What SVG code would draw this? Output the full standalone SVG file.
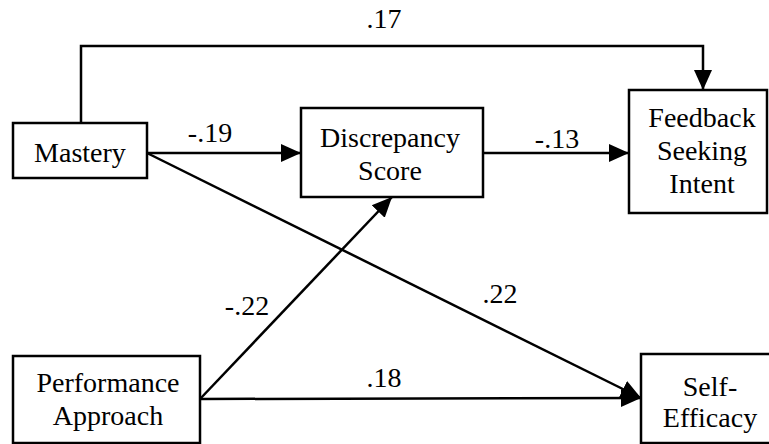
<svg xmlns="http://www.w3.org/2000/svg" width="769" height="444" viewBox="0 0 769 444">
  <style>
    .box { fill: #ffffff; stroke: #000000; stroke-width: 2.5; }
    .edge { fill: none; stroke: #000000; stroke-width: 2.5; }
    .arrow { marker-end: url(#head); }
    text { font-family: 'Liberation Serif', 'DejaVu Serif', serif; font-size: 28px; fill: #000000; text-anchor: middle; }
  </style>
  <defs>
    <marker id="head" markerUnits="userSpaceOnUse" markerWidth="20" markerHeight="20" viewBox="0 0 20 20" refX="20" refY="10" orient="auto">
      <path d="M0,1 L20,10 L0,19 Z" fill="#000000"/>
    </marker>
  </defs>
  <rect width="769" height="444" fill="#ffffff"/>

  <!-- paths between constructs -->
  <g id="connectors">
    <polyline class="edge arrow" points="81,123 81,46 703,46 703,90"/>
    <line class="edge arrow" x1="147" y1="153" x2="301" y2="153"/>
    <line class="edge arrow" x1="483" y1="153" x2="629" y2="153"/>
    <line class="edge arrow" x1="147" y1="153" x2="641" y2="398"/>
    <line class="edge arrow" x1="200" y1="399" x2="392" y2="197"/>
    <line class="edge arrow" x1="200" y1="399" x2="641" y2="398"/>
  </g>

  <!-- path coefficients -->
  <g id="coefficients">
    <text x="384" y="28">.17</text>
    <text x="210" y="142">-.19</text>
    <text x="557" y="148">-.13</text>
    <text x="247" y="315">-.22</text>
    <text x="500" y="303">.22</text>
    <text x="384" y="387">.18</text>
  </g>

  <g id="mastery">
    <rect class="box" x="13" y="123" width="134" height="55"/>
    <text x="80" y="162">Mastery</text>
  </g>

  <g id="discrepancy">
    <rect class="box" x="301" y="108" width="182" height="89"/>
    <text x="390" y="147">Discrepancy</text>
    <text x="390" y="180">Score</text>
  </g>

  <g id="feedback">
    <rect class="box" x="629" y="90" width="138" height="123"/>
    <text x="702" y="127">Feedback</text>
    <text x="702" y="160">Seeking</text>
    <text x="702" y="193">Intent</text>
  </g>

  <g id="performance">
    <rect class="box" x="13" y="356" width="187" height="87"/>
    <text x="108" y="392">Performance</text>
    <text x="108" y="425">Approach</text>
  </g>

  <g id="selfefficacy">
    <rect class="box" x="641" y="354" width="140" height="89"/>
    <text x="710" y="396">Self-</text>
    <text x="710" y="427">Efficacy</text>
  </g>
</svg>
